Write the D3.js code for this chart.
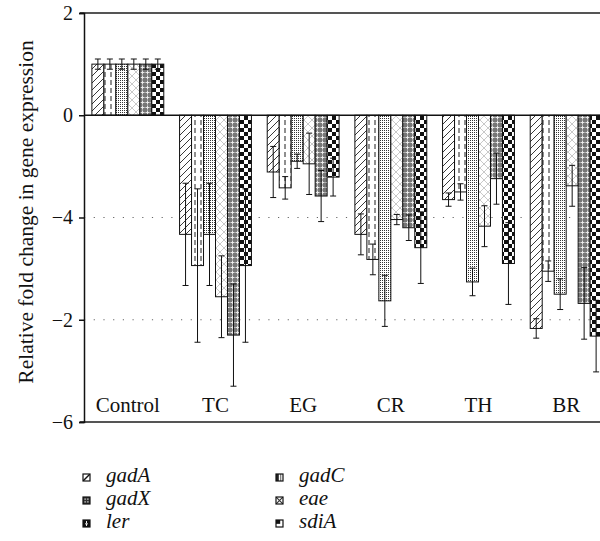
<!DOCTYPE html>
<html>
<head>
<meta charset="utf-8">
<script src="https://cdn.jsdelivr.net/npm/d3@7"></script>
<style>
  html, body { margin: 0; padding: 0; background: #fff; }
  svg { display: block; }
  text { font-family: "Liberation Serif", "DejaVu Serif", serif; fill: #111; }
</style>
</head>
<body>
<svg id="chart" width="600" height="541"></svg>
<script>
// ---- data ----
const groups = ["Control", "TC", "EG", "CR", "TH", "BR"];
const seriesNames = ["gadA", "ler", "gadC", "eae", "gadX", "sdiA"]; // bar order inside each group
const legendOrder = ["gadA", "gadC", "gadX", "eae", "ler", "sdiA"];
const gadA = [1.0, -2.33, -1.11, -2.33, -1.65, -4.17];
const gadAErr = [0.1, 1.0, 0.5, 0.4, 0.13, 0.19];
const ler = [1.0, -2.94, -1.42, -2.82, -1.50, -3.05];
const lerErr = [0.1, 1.5, 0.22, 0.3, 0.16, 0.2];
const gadC = [1.0, -2.33, -0.90, -3.63, -3.26, -3.50];
const gadCErr = [0.1, 1.0, 0.14, 0.5, 0.27, 0.3];
const eae = [1.0, -3.55, -0.95, -2.04, -2.17, -1.38];
const eaeErr = [0.1, 0.8, 0.6, 0.1, 0.4, 0.4];
const gadX = [1.0, -4.30, -1.58, -2.20, -1.24, -3.68];
const gadXErr = [0.1, 1.0, 0.5, 0.25, 0.5, 0.7];
const sdiA = [1.0, -2.94, -1.21, -2.59, -2.90, -4.32];
const sdiAErr = [0.1, 1.5, 0.37, 0.7, 0.8, 0.7];
const tickValues = [2, 0, -2, -4, -6];
const tickLabels = ["2", "0", "\u22124", "\u22122", "\u22126"];
const gridValues = [-2, -4];
const yTitle = "Relative fold change in gene expression";

const seriesData = {
  gadA: { v: gadA, e: gadAErr },
  ler: { v: ler, e: lerErr },
  gadC: { v: gadC, e: gadCErr },
  eae: { v: eae, e: eaeErr },
  gadX: { v: gadX, e: gadXErr },
  sdiA: { v: sdiA, e: sdiAErr }
};

// ---- layout ----
const svg = d3.select("#chart");
const plotLeft = 84, plotTop = 13, plotBottom = 422;
const y = d3.scaleLinear().domain([-6, 2]).range([plotBottom, plotTop]);
const x0 = d3.scaleBand().domain(groups).range([plotLeft, 610]).paddingInner(0.18).paddingOuter(0.09);
const x1 = d3.scaleBand().domain(seriesNames).range([0, x0.bandwidth()]);

// ---- patterns ----
const defs = svg.append("defs");
function pat(id, w, h) {
  return defs.append("pattern").attr("id", id).attr("patternUnits", "userSpaceOnUse")
    .attr("width", w).attr("height", h);
}
// gadA: diagonal lines
let p = pat("p-gadA", 7, 7);
p.append("rect").attr("width", 7).attr("height", 7).attr("fill", "#fff");
p.append("path").attr("d", "M0,7 L7,0 M-1,1 L1,-1 M6,8 L8,6").attr("stroke", "#222").attr("stroke-width", 0.9);
// ler: white with vertical dashed line
p = pat("p-ler", 6, 8);
p.append("rect").attr("width", 6).attr("height", 8).attr("fill", "#fff");
p.append("line").attr("x1", 3).attr("x2", 3).attr("y1", 0).attr("y2", 5).attr("stroke", "#444").attr("stroke-width", 1.2);
// gadC: fine dots
p = pat("p-gadC", 2, 2);
p.append("rect").attr("width", 2).attr("height", 2).attr("fill", "#fff");
p.append("rect").attr("width", 1).attr("height", 1).attr("fill", "#333");
// eae: light crosshatch
p = pat("p-eae", 8, 8);
p.append("rect").attr("width", 8).attr("height", 8).attr("fill", "#fff");
p.append("path").attr("d", "M0,0 L8,8 M8,0 L0,8").attr("stroke", "#bbb").attr("stroke-width", 0.8);
// gadX: gray with white crosses
p = pat("p-gadX", 5, 5);
p.append("rect").attr("width", 5).attr("height", 5).attr("fill", "#777");
p.append("path").attr("d", "M2.5,0.5 L2.5,4.5 M0.5,2.5 L4.5,2.5").attr("stroke", "#f2f2f2").attr("stroke-width", 0.9);
// sdiA: checkerboard
p = pat("p-sdiA", 8, 8);
p.append("rect").attr("width", 8).attr("height", 8).attr("fill", "#fff");
p.append("rect").attr("width", 4).attr("height", 4).attr("fill", "#111");
p.append("rect").attr("x", 4).attr("y", 4).attr("width", 4).attr("height", 4).attr("fill", "#111");

// legend swatch patterns (scaled to the small swatch box, 0..1 units)
function lpat(id) {
  return defs.append("pattern").attr("id", id).attr("patternUnits", "objectBoundingBox")
    .attr("patternContentUnits", "objectBoundingBox").attr("width", 1).attr("height", 1);
}
let lp = lpat("l-gadA");
lp.append("rect").attr("width", 1).attr("height", 1).attr("fill", "#fff");
lp.append("path").attr("d", "M0,1 L1,0").attr("stroke", "#111").attr("stroke-width", 0.2);
lp = lpat("l-gadC");
lp.append("rect").attr("width", 1).attr("height", 1).attr("fill", "#fff");
lp.append("rect").attr("width", 0.4).attr("height", 1).attr("fill", "#222");
lp.append("rect").attr("x", 0.6).attr("width", 0.15).attr("height", 1).attr("fill", "#666");
lp = lpat("l-gadX");
lp.append("rect").attr("width", 1).attr("height", 1).attr("fill", "#333");
lp.append("path").attr("d", "M0.3,0.2 v0.2 M0.7,0.2 v0.2 M0.3,0.6 v0.2 M0.7,0.6 v0.2").attr("stroke", "#fff").attr("stroke-width", 0.15);
lp = lpat("l-eae");
lp.append("rect").attr("width", 1).attr("height", 1).attr("fill", "#fff");
lp.append("path").attr("d", "M0,0 L1,1 M1,0 L0,1").attr("stroke", "#333").attr("stroke-width", 0.16);
lp = lpat("l-ler");
lp.append("rect").attr("width", 1).attr("height", 1).attr("fill", "#111");
lp.append("path").attr("d", "M0.5,0.15 v0.3 M0.3,0.55 h0.4 M0.5,0.55 v0.3").attr("stroke", "#fff").attr("stroke-width", 0.14);
lp = lpat("l-sdiA");
lp.append("rect").attr("width", 1).attr("height", 1).attr("fill", "#fff");
lp.append("rect").attr("width", 0.6).attr("height", 0.55).attr("fill", "#111");

// ---- grid lines ----
svg.append("g").selectAll("line").data(gridValues).join("line")
  .attr("x1", plotLeft).attr("x2", 600)
  .attr("y1", d => y(d)).attr("y2", d => y(d))
  .attr("stroke", "#666").attr("stroke-width", 1).attr("stroke-dasharray", "1.2,8.5");

// ---- bars ----
const gBars = svg.append("g");
groups.forEach((g, gi) => {
  seriesNames.forEach(s => {
    const v = seriesData[s].v[gi];
    gBars.append("rect")
      .attr("x", x0(g) + x1(s))
      .attr("y", y(Math.max(0, v)))
      .attr("width", x1.bandwidth())
      .attr("height", Math.abs(y(v) - y(0)))
      .attr("fill", `url(#p-${s})`)
      .attr("stroke", "#111").attr("stroke-width", 1);
  });
});

// ---- error bars ----
const gErr = svg.append("g").attr("stroke", "#111").attr("stroke-width", 1);
groups.forEach((g, gi) => {
  seriesNames.forEach(s => {
    const v = seriesData[s].v[gi], e = seriesData[s].e[gi];
    const cx = x0(g) + x1(s) + x1.bandwidth() / 2;
    gErr.append("line").attr("x1", cx).attr("x2", cx).attr("y1", y(v - e)).attr("y2", y(v + e));
    gErr.append("line").attr("x1", cx - 3).attr("x2", cx + 3).attr("y1", y(v - e)).attr("y2", y(v - e));
    gErr.append("line").attr("x1", cx - 3).attr("x2", cx + 3).attr("y1", y(v + e)).attr("y2", y(v + e));
  });
});

// ---- zero line, frame ----
svg.append("line").attr("x1", plotLeft).attr("x2", 600).attr("y1", y(0)).attr("y2", y(0))
  .attr("stroke", "#111").attr("stroke-width", 1.5);
svg.append("line").attr("x1", 80).attr("x2", 600).attr("y1", y(2)).attr("y2", y(2))
  .attr("stroke", "#555").attr("stroke-width", 2);
svg.append("line").attr("x1", 80).attr("x2", 600).attr("y1", y(-6)).attr("y2", y(-6))
  .attr("stroke", "#555").attr("stroke-width", 2);

// ---- y axis ----
const yAxis = d3.axisLeft(y).tickValues(tickValues).tickSize(5).tickPadding(6)
  .tickFormat((d, i) => tickLabels[i]);
const ga = svg.append("g").attr("transform", `translate(${plotLeft},0)`).call(yAxis);
ga.select(".domain").attr("stroke", "#111").attr("stroke-width", 1.5);
ga.selectAll(".tick line").attr("stroke", "#111").attr("stroke-width", 1.5);
ga.selectAll(".tick text").attr("font-family", "Liberation Serif, serif").attr("font-size", 20).attr("fill", "#111");

// ---- category labels ----
svg.append("g").selectAll("text").data(groups).join("text")
  .attr("x", d => x0(d) + x0.bandwidth() / 2)
  .attr("y", 412)
  .attr("text-anchor", "middle")
  .attr("font-size", 21)
  .text(d => d);

// ---- y title ----
svg.append("text")
  .attr("transform", "translate(33,212) rotate(-90)")
  .attr("text-anchor", "middle")
  .attr("font-size", 21.5)
  .text(yTitle);

// ---- legend ----
const legCols = [83, 276], legRows = [482, 505, 528];
legendOrder.forEach((s, i) => {
  const lx = legCols[i % 2], ly = legRows[Math.floor(i / 2)];
  svg.append("rect").attr("x", lx).attr("y", ly - 8).attr("width", 7).attr("height", 7)
    .attr("fill", `url(#l-${s})`).attr("stroke", "#111").attr("stroke-width", 1.2);
  svg.append("text").attr("x", lx + 23).attr("y", ly)
    .attr("font-family", "Liberation Serif, serif")
    .attr("font-size", 21).attr("font-style", "italic").text(s);
});
</script>
</body>
</html>
